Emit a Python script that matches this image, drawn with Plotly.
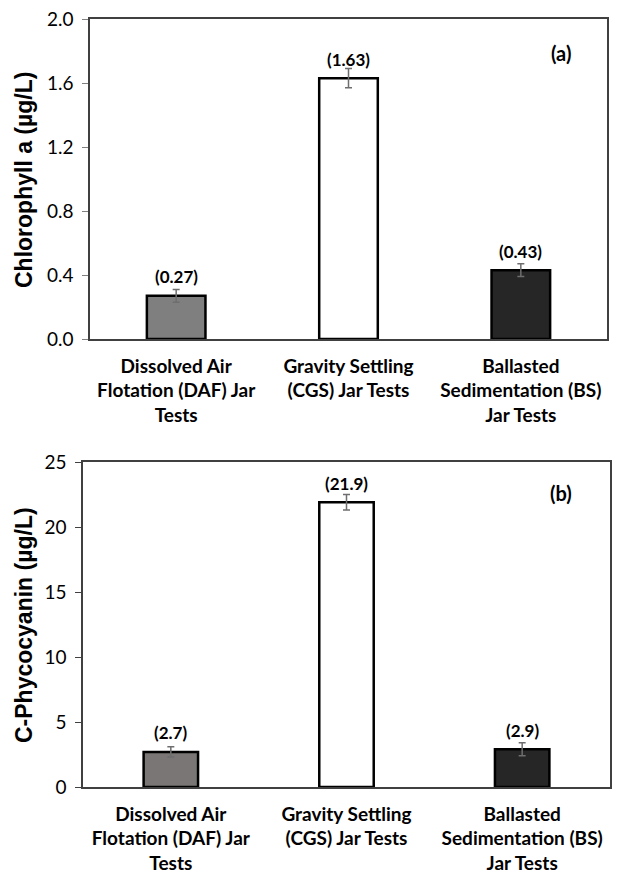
import plotly.graph_objects as go

categories = ["Dissolved Air<br>Flotation (DAF) Jar<br>Tests",
              "Gravity Settling<br>(CGS) Jar Tests",
              "Ballasted<br>Sedimentation (BS)<br>Jar Tests"]
chl_values = [0.27, 1.63, 0.43]
chl_errors = [0.04, 0.06, 0.04]
chl_labels = ["(0.27)", "(1.63)", "(0.43)"]
pc_values = [2.7, 21.9, 2.9]
pc_errors = [0.4, 0.6, 0.5]
pc_labels = ["(2.7)", "(21.9)", "(2.9)"]
colors_top = ["#7f7f7f", "#ffffff", "#262626"]
colors_bot = ["#7a7676", "#ffffff", "#262626"]

W, H = 617, 873
FONT = "Lato"

fig = go.Figure()
fig.add_trace(go.Bar(x=categories, y=chl_values, width=0.34,
                     marker=dict(color=colors_top, line=dict(color="black", width=2.5)),
                     error_y=dict(type="data", array=chl_errors, color="#6e6e6e", thickness=1.5, width=3.5),
                     xaxis="x", yaxis="y", showlegend=False))
fig.add_trace(go.Bar(x=categories, y=pc_values, width=0.31,
                     marker=dict(color=colors_bot, line=dict(color="black", width=2.5)),
                     error_y=dict(type="data", array=pc_errors, color="#6e6e6e", thickness=1.5, width=3.5),
                     xaxis="x2", yaxis="y2", showlegend=False))

def px_x(p):
    return p / W

def px_y(p):
    return 1 - p / H

xcommon = dict(type="category", showline=True, linecolor="#404040", linewidth=1.5, mirror=True,
               ticks="", showgrid=False, automargin=False, ticklabelstandoff=9,
               tickfont=dict(family=FONT, size=19, color="black", weight="bold"))
ycommon = dict(showline=True, linecolor="#404040", linewidth=1.5, mirror=True,
               ticks="outside", ticklen=6, tickcolor="#808080", tickwidth=1.2,
               showgrid=False, zeroline=False, automargin=False, ticklabelstandoff=5,
               tickfont=dict(family=FONT, size=19, color="black"))

annotations = []
for c, v, t in zip(categories, chl_values, chl_labels):
    annotations.append(dict(x=c, y=v, xref="x", yref="y", text=t, showarrow=False,
                            xanchor="center", yanchor="middle", yshift=19,
                            font=dict(family=FONT, size=17, color="black", weight="bold")))
for c, v, t in zip(categories, pc_values, pc_labels):
    annotations.append(dict(x=c, y=v, xref="x2", yref="y2", text=t, showarrow=False,
                            xanchor="center", yanchor="middle", yshift=19,
                            font=dict(family=FONT, size=17, color="black", weight="bold")))
annotations += [
    dict(x=px_x(561), y=px_y(53), xref="paper", yref="paper", text="(a)", showarrow=False,
         xanchor="center", yanchor="middle",
         font=dict(family=FONT, size=20, color="black", weight="bold")),
    dict(x=px_x(561), y=px_y(493), xref="paper", yref="paper", text="(b)", showarrow=False,
         xanchor="center", yanchor="middle",
         font=dict(family=FONT, size=20, color="black", weight="bold")),
    dict(x=px_x(24), y=px_y(180), xref="paper", yref="paper", text="Chlorophyll a (µg/L)",
         textangle=-90, showarrow=False, xanchor="center", yanchor="middle",
         font=dict(family="Liberation Sans", size=23, color="black", weight="bold")),
    dict(x=px_x(24), y=px_y(625), xref="paper", yref="paper", text="C-Phycocyanin (µg/L)",
         textangle=-90, showarrow=False, xanchor="center", yanchor="middle",
         font=dict(family="Liberation Sans", size=23, color="black", weight="bold")),
]

fig.update_layout(
    width=W, height=H, template="none",
    margin=dict(l=0, r=0, t=0, b=0),
    paper_bgcolor="white", plot_bgcolor="white",
    xaxis=dict(xcommon, domain=[px_x(90), px_x(607)], anchor="y"),
    yaxis=dict(ycommon, domain=[px_y(339), px_y(19)], range=[0, 2.0], dtick=0.4,
               tickformat=".1f", anchor="x"),
    xaxis2=dict(xcommon, domain=[px_x(83), px_x(610)], anchor="y2"),
    yaxis2=dict(ycommon, domain=[px_y(787), px_y(462)], range=[0, 25], dtick=5,
                anchor="x2", tickcolor="#404040"),
    # companion axis giving the crossing tick marks of panel (b)
    yaxis3=dict(overlaying="y2", anchor="x2", side="left", range=[0, 25], dtick=5,
                ticks="inside", ticklen=6, tickcolor="#404040", tickwidth=1.2,
                showticklabels=False, showline=False, showgrid=False, zeroline=False,
                automargin=False),
    annotations=annotations,
)

fig.write_html("out.html")
